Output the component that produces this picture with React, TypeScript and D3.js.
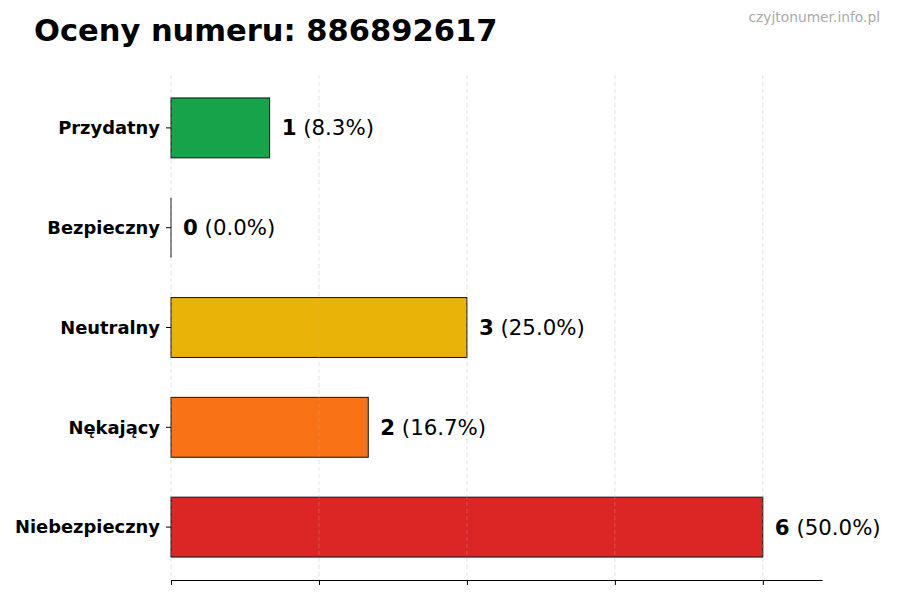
import * as d3 from "d3";
import { useEffect, useRef } from "react";

const categories = ["Przydatny", "Bezpieczny", "Neutralny", "Nękający", "Niebezpieczny"];
const counts = [1, 0, 3, 2, 6];
const colors = ["#16a34a", "#16a34a", "#eab308", "#f97316", "#dc2626"];
const xTicks = [0, 1.5, 3, 4.5, 6];
const title = "Oceny numeru: 886892617";
const watermark = "czyjtonumer.info.pl";

function App() {
	const ref = useRef<SVGSVGElement>(null);
	const width = 900;
	const height = 600;

	useEffect(() => {
		const svg = d3.select(ref.current);
		svg.selectAll("*").remove();
		const font = "DejaVu Sans, sans-serif";
		const left = 171;
		const right = 822;
		const top = 75;
		const bottom = 580;
		const total = d3.sum(counts);

		const x = d3.scaleLinear().domain([0, 6.6]).range([left, right]);
		const y = d3
			.scaleLinear()
			.domain([-0.53, categories.length - 1 + 0.53])
			.range([top, bottom]);
		const barH = y(0.3) - y(-0.3);

		svg.append("rect").attr("width", width).attr("height", height).attr("fill", "white");

		const bars = svg.append("g");
		bars
			.selectAll("rect")
			.data(counts)
			.enter()
			.append("rect")
			.attr("x", x(0))
			.attr("y", (_, i) => y(i) - barH / 2)
			.attr("width", (d) => x(d) - x(0))
			.attr("height", barH)
			.attr("fill", (_, i) => colors[i])
			.attr("stroke", "#111")
			.attr("stroke-width", 1);

		// zero-width bars still show their edge
		bars
			.selectAll("line")
			.data(counts.map((d, i) => ({ d, i })).filter((o) => o.d === 0))
			.enter()
			.append("line")
			.attr("x1", x(0))
			.attr("x2", x(0))
			.attr("y1", (o) => y(o.i) - barH / 2)
			.attr("y2", (o) => y(o.i) + barH / 2)
			.attr("stroke", "#111")
			.attr("stroke-width", 1);

		// grid
		svg.append("g")
			.selectAll("line")
			.data(xTicks)
			.enter()
			.append("line")
			.attr("x1", (d) => x(d))
			.attr("x2", (d) => x(d))
			.attr("y1", top)
			.attr("y2", bottom)
			.attr("stroke", "#b0b0b0")
			.attr("stroke-opacity", 0.45)
			.attr("stroke-dasharray", "4,3")
			.attr("stroke-width", 0.8);

		// bottom axis
		const axis = svg
			.append("g")
			.attr("transform", `translate(0,${bottom})`)
			.call(d3.axisBottom(x).tickValues(xTicks).tickFormat(() => "").tickSize(5).tickSizeOuter(0));
		axis.select(".domain").attr("stroke", "#000").attr("stroke-width", 1);
		axis.selectAll(".tick line").attr("stroke", "#000");

		// y labels
		const yl = svg.append("g");
		categories.forEach((c, i) => {
			yl.append("line")
				.attr("x1", left - 5)
				.attr("x2", left)
				.attr("y1", y(i))
				.attr("y2", y(i))
				.attr("stroke", "#000");
			yl.append("text")
				.attr("x", left - 11)
				.attr("y", y(i))
				.attr("dy", "0.35em")
				.attr("text-anchor", "end")
				.style("font-family", font)
				.style("font-size", "17.9px")
				.style("font-weight", "bold")
				.text(c);
		});

		// value labels
		counts.forEach((d, i) => {
			const t = svg
				.append("text")
				.attr("x", x(d) + 12)
				.attr("y", y(i))
				.attr("dy", "0.35em")
				.style("font-family", font)
				.style("font-size", "21.3px");
			t.append("tspan").style("font-weight", "bold").text(String(d));
			t.append("tspan").text(" (" + ((d / total) * 100).toFixed(1) + "%)");
		});

		svg.append("text")
			.attr("x", 34)
			.attr("y", 41)
			.style("font-family", font)
			.style("font-size", "30.5px")
			.style("font-weight", "bold")
			.text(title);

		svg.append("text")
			.attr("x", 880)
			.attr("y", 22)
			.attr("text-anchor", "end")
			.style("font-family", font)
			.style("font-size", "13.8px")
			.style("fill", "#aaaaaa")
			.text(watermark);
	}, []);

	return (
		<svg
			ref={ref}
			width={width}
			height={height}
			style={{ position: "absolute", left: 0, top: 0 }}
		></svg>
	);
}

export default App;
